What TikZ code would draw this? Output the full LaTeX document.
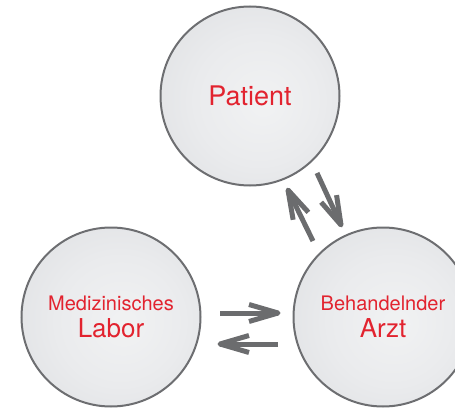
\documentclass[tikz,border=0pt]{standalone}
\usepackage{fontspec}
\setmainfont{TeX Gyre Heros}
\usepackage{tikz}
\usetikzlibrary{decorations.markings}
\definecolor{bubblerim}{HTML}{6D6E71}
\definecolor{arrowgray}{HTML}{6B6C6E}
\definecolor{labelred}{HTML}{E2232F}
\definecolor{bubblemid}{HTML}{F1F2F3}
\definecolor{bubblering}{HTML}{EAEBED}
\definecolor{bubbleedge}{HTML}{D5D7DA}
\pgfdeclareradialshading{bubbleshade}{\pgfpoint{4bp}{-2bp}}{color(0bp)=(bubblemid); color(18bp)=(bubblering); color(50bp)=(bubbleedge)}
\tikzset{bubble/.style={circle, draw=bubblerim, line width=2pt, minimum size=179pt, inner sep=0pt,
    shading=bubbleshade, text=labelred, align=center},
    end chevron/.style={postaction={decorate,decoration={ markings,
    mark=at position 1 with {\draw[#1, line width=5pt, line join=round] (-29pt,8.5pt) -- (0pt,0pt) -- (-29pt,-8.5pt);}
      }}},
    flow/.style={draw=arrowgray, line width=5pt, end chevron=arrowgray}}

\begin{document}
\begin{tikzpicture}[x=1pt, y=-1pt]
                    \useasboundingbox (0,0) rectangle (455,409);
                    %The three circles:
                    \node[bubble] (patient) at (250,96) {\fontsize{27}{30}\selectfont Patient};
                    \node[bubble] (labor) at (111,317) {\fontsize{20}{22}\selectfont Medizinisches\\[7pt]\fontsize{26}{28}\selectfont Labor};
                    \node[bubble] (arzt) at (383,317) {\fontsize{20}{22}\selectfont Behandelnder\\[7pt]\fontsize{26}{28}\selectfont Arzt};
                    %Arrow ends between patient and arzt
                    \coordinate (pa1) at (313,241);
                    \coordinate (pa2) at (288,190);
                    \coordinate (pa3) at (317,173);
                    \coordinate (pa4) at (341,225);
                    %Arrow ends between labor and arzt
                    \coordinate (la1) at (220,313);
                    \coordinate (la2) at (278,313);
                    \coordinate (la3) at (278,344);
                    \coordinate (la4) at (220,344);
                    \draw[flow] (pa1) -- (pa2);
                    \draw[flow] (pa3) -- (pa4);
                    \draw[flow] (la1) -- (la2);
                    \draw[flow] (la3) -- (la4);
                \end{tikzpicture}
\end{document}
